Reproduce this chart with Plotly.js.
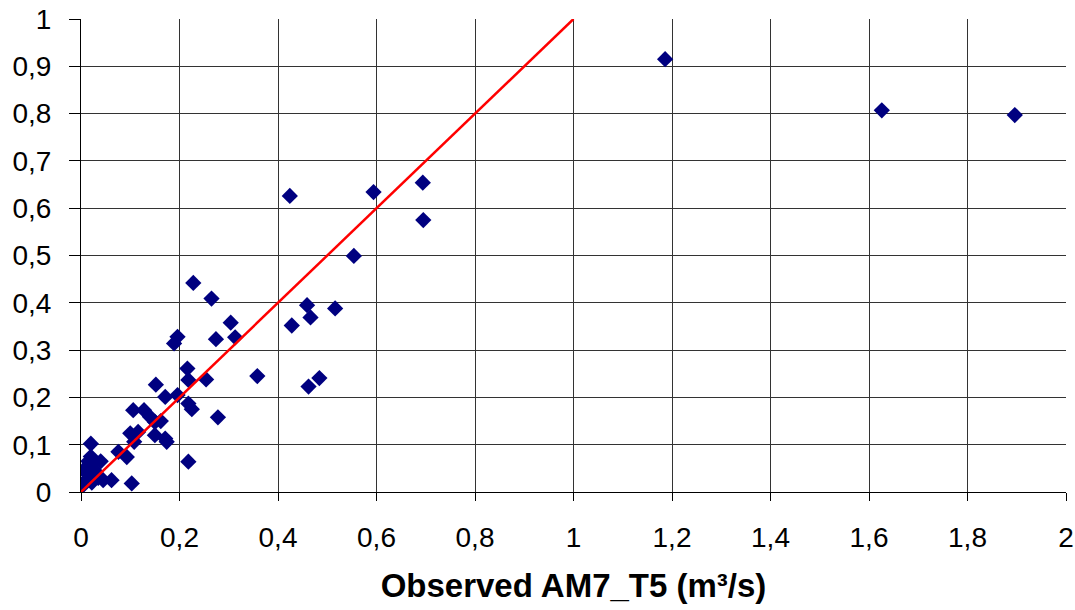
<!DOCTYPE html>
<html>
<head>
<meta charset="utf-8">
<script src="https://cdn.plot.ly/plotly-3.0.1.min.js"></script>
<style>html,body{margin:0;padding:0;background:#fff;}#chart{width:1075px;height:610px;}</style>
</head>
<body>
<div id="chart"></div>
<script>
const observed = [0.005,0.010,0.012,0.008,0.015,0.020,0.020,0.025,0.028,0.022,0.035,0.040,0.045,0.062,0.076,0.093,0.103,
  0.100,0.116,0.108,0.106,0.128,0.140,0.150,0.162,0.150,0.171,0.174,0.152,0.171,0.196,0.218,0.225,0.278,0.218,0.216,0.218,0.254,0.358,
  0.228,0.265,0.196,0.189,0.274,0.304,0.313,
  0.428,0.459,0.466,0.516,0.462,0.484,
  0.424,0.554,0.594,0.694,0.695,
  1.186,1.626,1.896];
const simulated = [0.015,0.025,0.040,0.050,0.065,0.075,0.102,0.060,0.045,0.020,0.030,0.065,0.025,0.025,0.085,0.074,0.018,
  0.124,0.127,0.106,0.173,0.173,0.159,0.148,0.150,0.120,0.113,0.106,0.227,0.201,0.205,0.187,0.175,0.158,0.064,0.261,0.237,0.238,0.245,
  0.442,0.409,0.328,0.314,0.323,0.358,0.327,
  0.352,0.395,0.369,0.388,0.223,0.241,
  0.626,0.499,0.634,0.654,0.575,
  0.915,0.807,0.797];
const lineX = [0, 1];
const lineY = [0, 1];
const xTicks = [0,0.2,0.4,0.6,0.8,1,1.2,1.4,1.6,1.8,2];
const yTicks = [0,0.1,0.2,0.3,0.4,0.5,0.6,0.7,0.8,0.9,1];

const font = "Liberation Sans, Arial, sans-serif";
Plotly.newPlot('chart', [
  {x: observed, y: simulated, type: 'scatter', mode: 'markers',
   marker: {symbol: 'diamond', size: 12.5, color: '#000080'}, hoverinfo: 'none'},
  {x: lineX, y: lineY, type: 'scatter', mode: 'lines',
   line: {color: '#ff0000', width: 2.5}, hoverinfo: 'none'}
], {
  width: 1075, height: 610,
  margin: {l: 81, r: 9, t: 19, b: 118},
  paper_bgcolor: '#fff', plot_bgcolor: '#fff',
  showlegend: false,
  separators: ', ',
  font: {family: font, color: '#000', size: 28},
  xaxis: {range: [0, 2], tickvals: xTicks, ticktext: xTicks.map(v => String(v).replace('.', ',')),
    showgrid: true, gridcolor: '#333', gridwidth: 1, zeroline: false,
    showline: true, linecolor: '#000', linewidth: 1,
    ticks: 'outside', ticklen: 8, tickcolor: '#000', ticklabelstandoff: 12,
    tickfont: {family: font, size: 28, color: '#000'},
    title: {text: '<b>Observed AM7_T5 (m³/s)</b>', font: {family: font, size: 33, color: '#000'}, standoff: 22}},
  yaxis: {range: [0, 1], tickvals: yTicks, ticktext: yTicks.map(v => String(v).replace('.', ',')),
    showgrid: true, gridcolor: '#333', gridwidth: 1, zeroline: false,
    showline: true, linecolor: '#000', linewidth: 1,
    ticks: 'outside', ticklen: 11, tickcolor: '#000', ticklabelstandoff: 12,
    tickfont: {family: font, size: 28, color: '#000'}}
}, {staticPlot: true});
</script>
</body>
</html>
